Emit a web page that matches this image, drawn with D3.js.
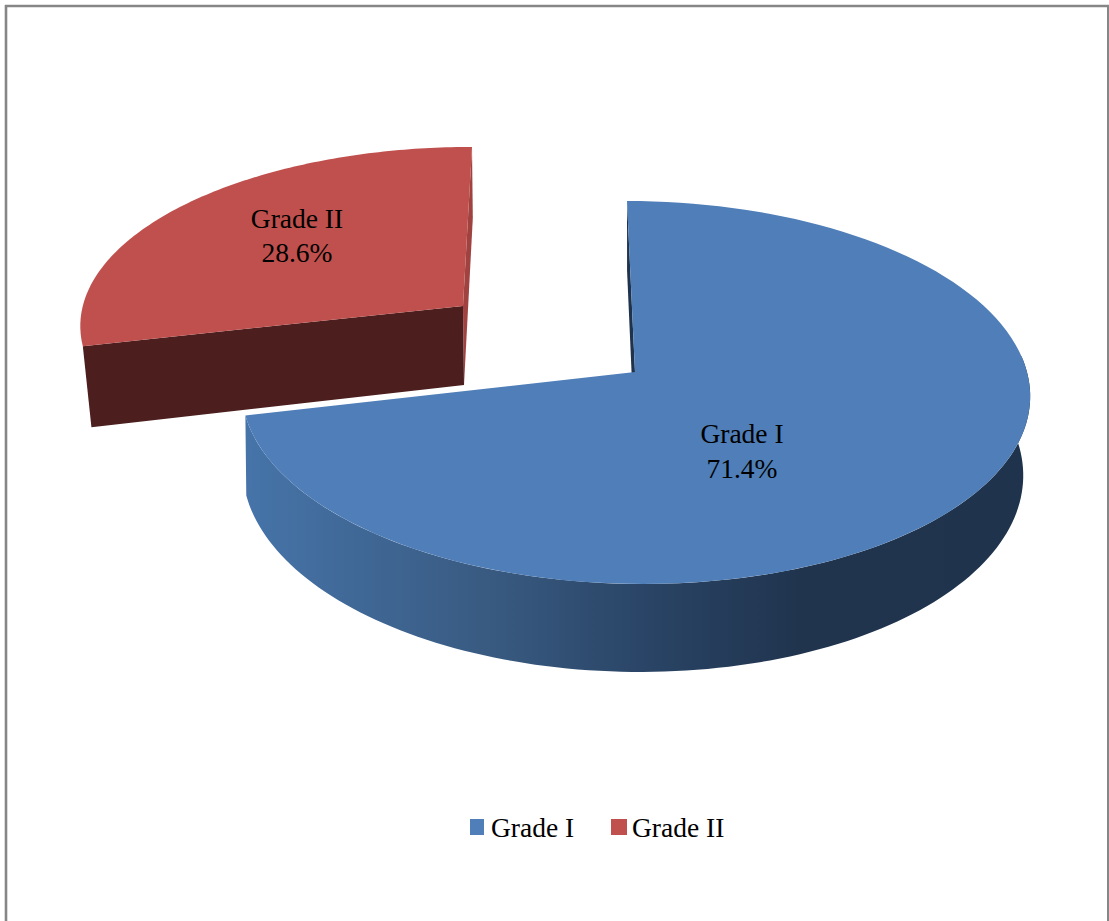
<!DOCTYPE html>
<html>
<head>
<meta charset="utf-8">
<script src="https://cdn.jsdelivr.net/npm/d3@7/dist/d3.min.js"></script>
<style>
html,body{margin:0;padding:0;background:#fff;overflow:hidden}
text{font-family:"Liberation Serif","Times New Roman",serif;fill:#000}
</style>
</head>
<body>
<svg id="chart" width="1109" height="921"></svg>
<script>
const categories = ["Grade I", "Grade II"];
const values = [71.4, 28.6];
const sliceColors = ["#4f7eb8", "#bf504d"];
const sideColors = ["#1f334d", "#4c1e1e"];
const endWallColors = ["#1f334d", "#a04340"];

// Perspective parameters of each exploded slice
const views = [
  {ax:635, ay:372, R:392, a:189.3, b:0.107, dx:0,   skew:-8,  sx:0.99, sy:1.047, D:78, shift:-3, wallShift:0},
  {ax:463, ay:306, R:384, a:175,   b:0.1,   dx:3.8, skew:5.2, sx:0.98, sy:1.05,  D:79, shift:1,  wallShift:1}
];
const labelPos = [
  {x:742, y:443, dy:35},
  {x:297, y:228, dy:34}
];

const svg = d3.select("#chart");
svg.append("rect").attr("width",1109).attr("height",921).attr("fill","#fff");

// Frame
const frameColor = "#868686";
svg.append("line").attr("x1",6).attr("x2",6).attr("y1",5).attr("y2",921).attr("stroke",frameColor).attr("stroke-width",2.6);
svg.append("line").attr("x1",5).attr("x2",1109).attr("y1",6).attr("y2",6).attr("stroke",frameColor).attr("stroke-width",2.4);
svg.append("line").attr("x1",1108).attr("x2",1108).attr("y1",5).attr("y2",921).attr("stroke",frameColor).attr("stroke-width",2);

const pie = d3.pie().sort(null).value(d=>d)(values);

function project(v, theta, r, d, shift){
  const u = r*Math.sin(theta), w = r*Math.cos(theta);
  const k = 1 + v.b*w;
  let x = v.R*u/k + (v.skew*w) + v.dx*r;
  let y = -v.a*w/k;
  if(d){
    x = x*v.sx + (shift===undefined ? v.shift : shift);
    y = y*v.sy + v.D;
  }
  return [v.ax+x, v.ay+y];
}
const line = d3.line();
const steps = (a,b)=>d3.range(0,121).map(i=>a+(b-a)*i/120);

// Gradient for the outer wall of Grade I
const wallColor = d3.scaleLinear()
  .domain([245,500,640,800,1031])
  .range(["#4674a9","#38597f","#2a4567","#20344e","#1f334d"]);
const xGrad = d3.scaleLinear().domain([245,1031]).range([0,1]);
const grad = svg.append("defs").append("linearGradient").attr("id","wall")
  .attr("gradientUnits","userSpaceOnUse").attr("x1",245).attr("x2",1031).attr("y1",0).attr("y2",0);
wallColor.domain().forEach(x=>grad.append("stop").attr("offset",xGrad(x)).attr("stop-color",wallColor(x)));

// Grade II
(function(){
  const v=views[1], s=pie[1];
  const A=s.startAngle, B=s.endAngle;
  svg.append("path").attr("fill",endWallColors[1]).attr("d",line([
    project(v,B,1,0),project(v,B,1,1),project(v,B,0,1),project(v,B,0,0)])+"Z");
  svg.append("path").attr("fill",sideColors[1]).attr("d",line([
    project(v,A,1,0),project(v,A,0,0),project(v,A,0,1),project(v,A,1,1)])+"Z");
  const rim=steps(A,B).map(t=>project(v,t,1,0));
  svg.append("path").attr("fill",sliceColors[1]).attr("d",line([project(v,A,0,0),...rim])+"Z");
})();

// Grade I
(function(){
  const v=views[0], s=pie[0];
  const A=s.startAngle, B=s.endAngle;
  svg.append("path").attr("fill",endWallColors[0]).attr("d",line([
    project(v,A,1,0),project(v,A,1,1,v.wallShift),project(v,A,0,1,v.wallShift),project(v,A,0,0)])+"Z");
  const t0=Math.PI*85/180;
  const top=steps(t0,B).map(t=>project(v,t,1,0));
  const bot=steps(t0,B).map(t=>project(v,t,1,1)).reverse();
  svg.append("path").attr("fill","url(#wall)").attr("d",line([...top,...bot])+"Z");
  const rim=steps(A,B).map(t=>project(v,t,1,0));
  svg.append("path").attr("fill",sliceColors[0]).attr("d",line([project(v,A,0,0),...rim])+"Z");
})();

// Data labels
const fs = 27.5;
categories.forEach((c,i)=>{
  const p=labelPos[i];
  svg.append("text").attr("x",p.x).attr("y",p.y).attr("text-anchor","middle").attr("font-size",fs).text(c);
  svg.append("text").attr("x",p.x).attr("y",p.y+p.dy).attr("text-anchor","middle").attr("font-size",fs).text(values[i].toFixed(1)+"%");
});

// Legend
const legendX = [470, 611];
categories.forEach((c,i)=>{
  svg.append("rect").attr("x",legendX[i]).attr("y",819).attr("width",i?16:14).attr("height",16).attr("fill",sliceColors[i]);
  svg.append("text").attr("x",legendX[i]+21).attr("y",837).attr("font-size",fs).text(c);
});
</script>
</body>
</html>
